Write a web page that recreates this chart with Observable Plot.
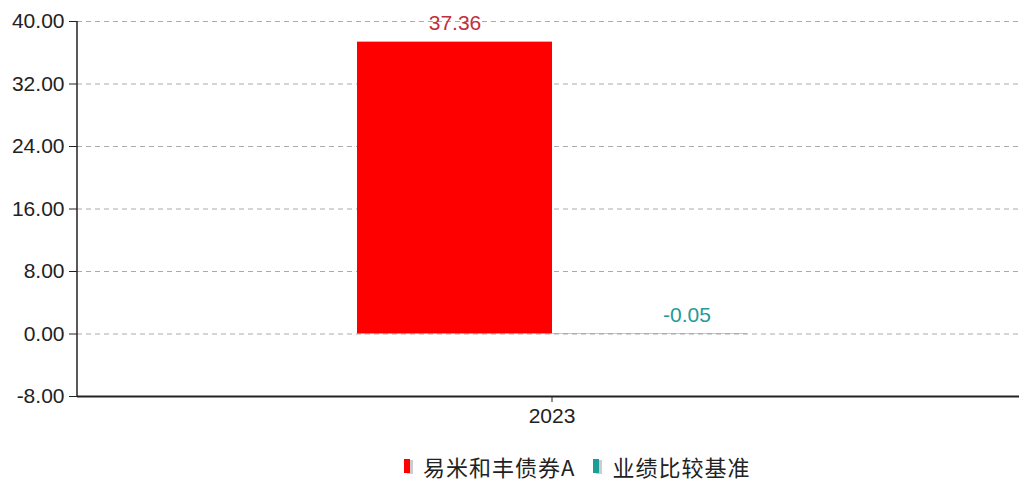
<!DOCTYPE html>
<html>
<head>
<meta charset="utf-8">
<script src="https://cdn.jsdelivr.net/npm/d3@7"></script>
<script src="https://cdn.jsdelivr.net/npm/@observablehq/plot@0.6"></script>
<style>
  html, body { margin: 0; padding: 0; background: #fff; width: 1019px; height: 484px; overflow: hidden; }
  #chart { position: absolute; left: 0; top: 0; width: 1019px; overflow: hidden; }
  #legend { position: absolute; left: 404px; top: 450px; height: 32px; display: flex; align-items: center; white-space: nowrap;
            font-family: "Noto Sans CJK SC", "Liberation Sans", sans-serif; font-size: 22px; letter-spacing: 1px; color: #222; line-height: 30px; }
  .item { display: flex; align-items: center; margin-right: 18px; }
  .sw { width: 6px; height: 14px; margin-right: 13px; box-shadow: 3px 1px 0 #ccc; }
</style>
</head>
<body>
<div id="chart"></div>
<div id="legend"></div>
<script>
const years = ["2023"];
const seriesNames = ["易米和丰债券A", "业绩比较基准"];
const seriesValues = [37.36, -0.05];
const yTicks = [-8, 0, 8, 16, 24, 32, 40];
const palette = ["#ff0000", "#1a9e96"];

const data = seriesNames.map((s, i) => ({ year: years[0], series: s, value: seriesValues[i] }));

const leftLine = (index, scales, values, dimensions) => {
  const ns = "http://www.w3.org/2000/svg";
  const line = document.createElementNS(ns, "line");
  const y0 = dimensions.marginTop, y1 = dimensions.height - dimensions.marginBottom;
  line.setAttribute("x1", dimensions.marginLeft);
  line.setAttribute("x2", dimensions.marginLeft);
  line.setAttribute("y1", y0);
  line.setAttribute("y2", y1 + 1);
  line.setAttribute("stroke", "#222");
  line.setAttribute("stroke-width", 1.5);
  return line;
};

const chart = Plot.plot({
  width: 1026,
  height: 440,
  marginTop: 21,
  marginBottom: 44,
  marginLeft: 77,
  marginRight: 0,
  style: { fontFamily: "'Liberation Sans', Arial, sans-serif", fontSize: "21px", color: "#222", background: "white", maxWidth: "none" },
  fx: { domain: years, padding: 0, label: null },
  x: { domain: seriesNames, paddingInner: 0, paddingOuter: 1.43, axis: null },
  y: { domain: [-8, 40], label: null },
  color: { domain: seriesNames, range: palette },
  marks: [
    Plot.gridY(yTicks.filter(t => t > -8), { stroke: "#aaa", strokeOpacity: 1, strokeDasharray: "5,4" }),
    Plot.barY(data, { fx: "year", x: "series", y: "value", fill: "series" }),
    Plot.ruleY([-8], { stroke: "#222", strokeWidth: 2 }),
    Plot.axisY(yTicks, { tickFormat: d => d.toFixed(2), tickSize: 8, tickPadding: 5, label: null, stroke: "#222", fill: "#222" }),
    leftLine,
    Plot.axisFx({ anchor: "bottom", tickSize: 6, tickPadding: 6, label: null, fill: "#222" }),
    Plot.text(data, { filter: d => d.value >= 0, fx: "year", x: "series", y: "value", text: d => d.value.toFixed(2), dy: -19, fill: "#c0303c" }),
    Plot.text(data, { filter: d => d.value < 0, fx: "year", x: "series", y: "value", text: d => d.value.toFixed(2), dy: -19, dx: 37, fill: "#1f9a9a" })
  ]
});
document.getElementById("chart").appendChild(chart);

const legend = document.getElementById("legend");
seriesNames.forEach((name, i) => {
  const item = document.createElement("div");
  item.className = "item";
  const sw = document.createElement("span");
  sw.className = "sw";
  sw.style.background = palette[i];
  const label = document.createElement("span");
  label.textContent = name;
  item.appendChild(sw);
  item.appendChild(label);
  legend.appendChild(item);
});
</script>
</body>
</html>
